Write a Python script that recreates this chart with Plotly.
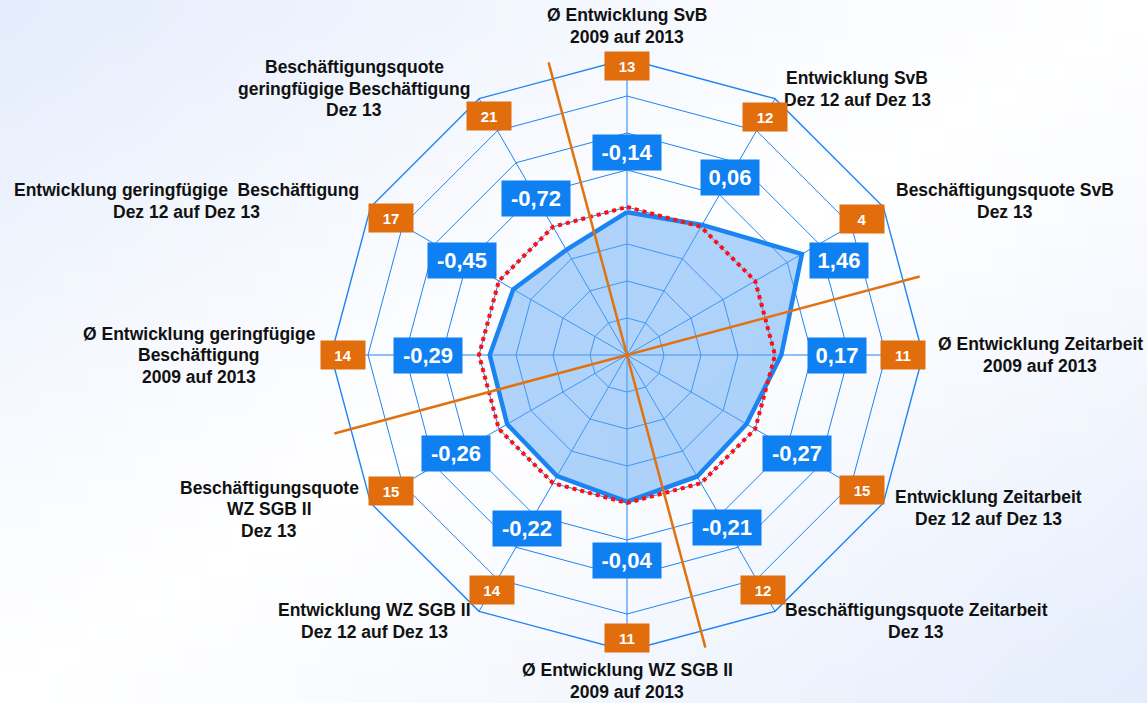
import math, zlib, struct, base64
import plotly.graph_objects as go

# ---------------- data ----------------
kategorien = [
    "Ø Entwicklung SvB<br>2009 auf 2013",
    "Entwicklung SvB<br>Dez 12 auf Dez 13",
    "Beschäftigungsquote SvB<br>Dez 13",
    "Ø Entwicklung Zeitarbeit<br>2009 auf 2013",
    "Entwicklung Zeitarbeit<br>Dez 12 auf Dez 13",
    "Beschäftigungsquote Zeitarbeit<br>Dez 13",
    "Ø Entwicklung WZ SGB II<br>2009 auf 2013",
    "Entwicklung WZ SGB II<br>Dez 12 auf Dez 13",
    "Beschäftigungsquote<br>WZ SGB II<br>Dez 13",
    "Ø Entwicklung geringfügige<br>Beschäftigung<br>2009 auf 2013",
    "Entwicklung geringfügige  Beschäftigung<br>Dez 12 auf Dez 13",
    "Beschäftigungsquote<br>geringfügige Beschäftigung<br>Dez 13",
]
werte = [-0.14, 0.06, 1.46, 0.17, -0.27, -0.21, -0.04, -0.22, -0.26, -0.29, -0.45, -0.72]
raenge = [13, 12, 4, 11, 15, 12, 11, 14, 15, 14, 17, 21]
referenz = [0] * 12
radial_ticks = [-3, -2, -1, 0, 1, 2, 3, 4]
orange_achsen_winkel = [345, 75]   # two dividing lines (deg, clockwise from top)

# ---------------- layout constants ----------------
W, H = 1147, 703
CX, CY, R = 627, 355, 296
RMIN, RMAX = -4, 4
GRID = "#1f84f2"
BLUE = "#0f80f2"
ORANGE = "#e26d0c"
FONT = "Arial, Liberation Sans, sans-serif"
LINE_H = 21.5

label_pos = [(627, 26), (857, 89), (1005, 201), (1040, 355), (988, 508), (916, 621),
             (627, 681), (375, 621), (269, 509), (199, 355), (186, 201), (354, 89)]
blue_r = [202, 205, 232, 210, 196, 199, 205, 200, 197, 199, 190, 181]
blue_off = [0, 0, 6, 0, 0, 0, 0, 0, 0, 0, 0, 0]
orange_r = [289, 275, 271, 276, 271, 271, 283, 271, 272, 284, 273, 276]


def to_paper(px, py):
    return px / W, 1 - py / H


def polar_px(rpx, deg):
    a = math.radians(deg)
    return CX + rpx * math.sin(a), CY - rpx * math.cos(a)


# ---------------- background gradient image ----------------
def gradient_png(w, h, c0, c1):
    rows = []
    for y in range(h):
        row = bytearray([0])
        for x in range(w):
            d = abs(x / (w - 1) + y / (h - 1) - 1)
            d = min(1.0, d) ** 1.2
            row += bytes(int(round(c0[i] + (c1[i] - c0[i]) * d)) for i in range(3))
        rows.append(bytes(row))
    raw = b"".join(rows)

    def chunk(t, data):
        c = struct.pack(">I", len(data)) + t + data
        return c + struct.pack(">I", zlib.crc32(t + data) & 0xffffffff)

    png = b"\x89PNG\r\n\x1a\n" + chunk(b"IHDR", struct.pack(">IIBBBBB", w, h, 8, 2, 0, 0, 0))
    png += chunk(b"IDAT", zlib.compress(raw)) + chunk(b"IEND", b"")
    return "data:image/png;base64," + base64.b64encode(png).decode()


bg = gradient_png(48, 30, (255, 255, 255), (229, 237, 252))

# ---------------- figure ----------------
fig = go.Figure()

theta = kategorien + [kategorien[0]]
fig.add_trace(go.Scatterpolar(
    r=werte + [werte[0]], theta=theta, mode="lines", fill="toself",
    fillcolor="rgba(95,168,246,0.50)", line=dict(color="#1a84f2", width=4.5),
    hoverinfo="skip", showlegend=False))
fig.add_trace(go.Scatterpolar(
    r=referenz + [referenz[0]], theta=theta, mode="lines",
    line=dict(color="#ff1010", width=4, dash="4px,4px"),
    hoverinfo="skip", showlegend=False))

x0, x1 = (CX - R) / W, (CX + R) / W
y0, y1 = 1 - (CY + R) / H, 1 - (CY - R) / H

fig.update_layout(
    width=W, height=H,
    margin=dict(l=0, r=0, t=0, b=0),
    paper_bgcolor="white",
    images=[dict(source=bg, xref="paper", yref="paper", x=0, y=1, sizex=1, sizey=1,
                 xanchor="left", yanchor="top", sizing="stretch", layer="below")],
    polar=dict(
        domain=dict(x=[x0, x1], y=[y0, y1]),
        bgcolor="rgba(0,0,0,0)",
        gridshape="linear",
        radialaxis=dict(range=[RMIN, RMAX], tickvals=radial_ticks, showticklabels=False,
                        ticks="", showline=False, gridcolor=GRID, gridwidth=1.4),
        angularaxis=dict(direction="clockwise", rotation=90, type="category",
                         showticklabels=False, ticks="", gridcolor=GRID, gridwidth=1.4,
                         linecolor=GRID, linewidth=1.4),
    ),
)

# orange dividing lines
for ang in orange_achsen_winkel:
    ax_, ay_ = polar_px(303, ang)
    bx_, by_ = polar_px(303, ang + 180)
    p0 = to_paper(ax_, ay_)
    p1 = to_paper(bx_, by_)
    fig.add_shape(type="line", xref="paper", yref="paper", x0=p0[0], y0=p0[1],
                  x1=p1[0], y1=p1[1], line=dict(color="#e0730f", width=2.5), layer="above")

ann = []
for i, (lab, v, rk) in enumerate(zip(kategorien, werte, raenge)):
    ang = i * 360 / len(kategorien)
    # category labels, one annotation per line for tight line spacing
    px, py = label_pos[i]
    zeilen = lab.split("<br>")
    n = len(zeilen)
    for k, z in enumerate(zeilen):
        xp, yp = to_paper(px, py + (k - (n - 1) / 2) * LINE_H)
        ann.append(dict(x=xp, y=yp, xref="paper", yref="paper",
                        text="<b>" + z.replace("  ", "\u00a0 ") + "</b>",
                        showarrow=False, font=dict(family=FONT, size=17.5, color="#111111"),
                        align="center", xanchor="center", yanchor="middle"))
    # value boxes
    bx, by = polar_px(blue_r[i], ang + blue_off[i])
    xp, yp = to_paper(bx, by)
    txt = f"{v:.2f}".replace(".", ",")
    ann.append(dict(x=xp, y=yp, xref="paper", yref="paper", text="<b>" + txt + "</b>",
                    showarrow=False, font=dict(family=FONT, size=22, color="white"),
                    bgcolor=BLUE, width=10 * len(txt) + 16, height=33, borderpad=1,
                    xanchor="center", yanchor="middle"))
    # rank boxes
    ox, oy = polar_px(orange_r[i], ang)
    xp, yp = to_paper(ox, oy)
    ann.append(dict(x=xp, y=yp, xref="paper", yref="paper", text="<b>" + str(rk) + "</b>",
                    showarrow=False, font=dict(family=FONT, size=15, color="white"),
                    bgcolor=ORANGE, width=42, height=26, borderpad=1,
                    xanchor="center", yanchor="middle"))

fig.update_layout(annotations=ann)
fig.write_html("out.html")
